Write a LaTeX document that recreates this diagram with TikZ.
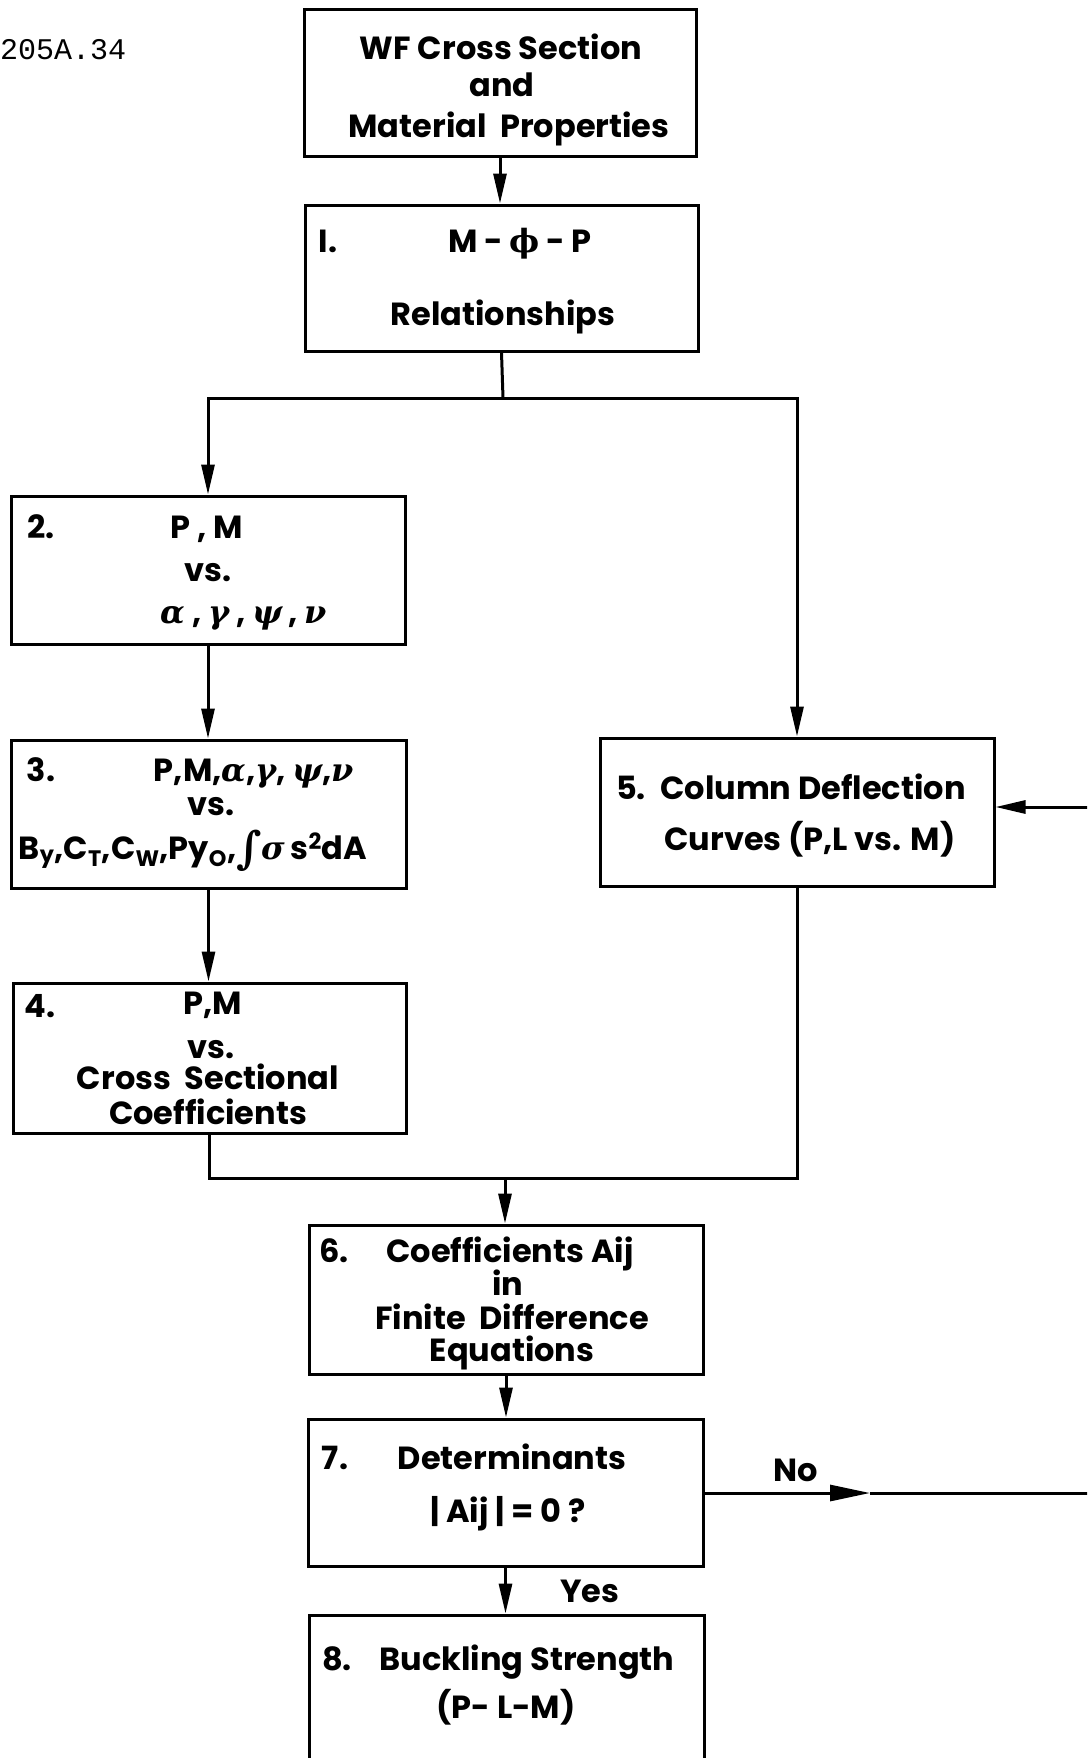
\documentclass[tikz,border=0pt]{standalone}
\usepackage{fontspec}
\setmainfont{Poppins}
\newfontfamily\monofam{Liberation Mono}
\newfontfamily\grk{DejaVu Serif}
\usetikzlibrary{arrows.meta}
\newcommand\lblfont{\fontsize{32pt}{32pt}\selectfont\bfseries}
\newcommand\gi[1]{{\grk\itshape\bfseries #1}}
\newcommand\bigint{\raisebox{-4pt}{\fontsize{44pt}{44pt}\selectfont\grk\itshape ∫}}
\begin{document}
\begin{tikzpicture}[x=1pt,y=-1pt,
  box/.style={draw, line width=3pt, rectangle, inner sep=0pt},
  lbl/.style={font=\lblfont, inner sep=0pt, text height=22pt, text depth=0pt, anchor=center},
  conn/.style={line width=3pt},
  arr/.style={conn, -{Triangle[length=30pt,width=13pt]}},
  arrno/.style={conn, -{Triangle[length=40pt,width=16pt]}}
]
\clip (0,0) rectangle (1087,1758);
\useasboundingbox (0,0) rectangle (1087,1758);

% header
\node[font=\monofam\fontsize{30pt}{30pt}\selectfont, anchor=west, inner sep=0pt] (hdr) at (0,50) {205A.34};

% boxes
\node[box, minimum width=392pt, minimum height=146pt] (b0) at (500,83) {};
\node[box, minimum width=393pt, minimum height=146pt] (b1) at (501.5,278) {};
\node[box, minimum width=394pt, minimum height=148pt] (b2) at (208,570) {};
\node[box, minimum width=395pt, minimum height=148pt] (b3) at (208.5,814) {};
\node[box, minimum width=393pt, minimum height=150pt] (b4) at (209.5,1058) {};
\node[box, minimum width=394pt, minimum height=148pt] (b5) at (797,812) {};
\node[box, minimum width=394pt, minimum height=149pt] (b6) at (506,1299.5) {};
\node[box, minimum width=395pt, minimum height=147pt] (b7) at (505.5,1492.5) {};
\node[box, minimum width=395pt, minimum height=300pt] (b8) at (506.5,1765) {};

% texts
\node[lbl] (t0a) at (501,49) {WF Cross Section};
\node[lbl] (t0b) at (502,86) {and};
\node[lbl] (t0c) at (509,127) {Material \ Properties};

\node[lbl] (t1n) at (328,241) {I.};
\node[lbl] (t1a) at (520,241) {M - {\grk\bfseries ϕ} - P};
\node[lbl] (t1b) at (503,314) {Relationships};

\node[lbl] (t2n) at (41,527) {2.};
\node[lbl] (t2a) at (207,527) {P , M};
\node[lbl] (t2b) at (208,570) {vs.};
\node[lbl] (t2c) at (244,612) {\gi{α} , \gi{γ} , \gi{ψ} , \gi{ν}};

\node[lbl] (t3n) at (41,770) {3.};
\node[lbl] (t3a) at (254,770) {P,M,\gi{α},\gi{γ}, \gi{ψ},\gi{ν}};
\node[lbl] (t3b) at (211,804) {vs.};
\node[lbl] (t3c) at (193,848) {B\textsubscript{y},C\textsubscript{T},C\textsubscript{W},Py\textsubscript{O},\bigint\gi{σ}\,s\textsuperscript{2}dA};

\node[lbl] (t4n) at (40,1006) {4.};
\node[lbl] (t4a) at (213,1003) {P,M};
\node[lbl] (t4b) at (211,1047) {vs.};
\node[lbl] (t4c) at (208,1078) {Cross \ Sectional};
\node[lbl] (t4d) at (208,1113) {Coefficients};

\node[lbl] (t5n) at (631,788) {5.};
\node[lbl] (t5a) at (813,788) {Column Deflection};
\node[lbl] (t5b) at (810,839) {Curves (P,L vs. M)};

\node[lbl] (t6n) at (334,1251) {6.};
\node[lbl] (t6a) at (510,1251) {Coefficients Aij};
\node[lbl] (t6b) at (508,1284) {in};
\node[lbl] (t6c) at (512,1318) {Finite \ Difference};
\node[lbl] (t6d) at (512,1350) {Equations};

\node[lbl] (t7n) at (335,1458) {7.};
\node[lbl] (t7a) at (512,1458) {Determinants};
\node[lbl] (t7b) at (508,1511) {| Aij | = 0 ?};

\node[lbl] (t8n) at (337,1659) {8.};
\node[lbl] (t8a) at (527,1659) {Buckling Strength};
\node[lbl] (t8b) at (506,1707) {(P- L-M)};

\node[lbl] (lno) at (796,1470) {No};
\node[lbl] (lyes) at (590,1591) {Yes};

% coordinates
\coordinate (j1) at (503,398);
\coordinate (j2) at (505,1178);
\coordinate (noarr) at (870,1493);
\coordinate (noend) at (1095,1493);
\coordinate (fbstart) at (1095,807);

% connectors
\draw[arr] (b0.south) -- (b0.south |- b1.north);
\draw[conn] (b1.south) -- (j1);
\draw[arr] (j1) -| (b2.north);
\draw[arr] (j1) -| (b5.north);
\draw[arr] (b2.south) -- (b2.south |- b3.north);
\draw[arr] (b3.south) -- (b3.south |- b4.north);
\draw[conn] (b4.south) |- (j2);
\draw[conn] (b5.south) |- (j2);
\draw[arr] (j2) -- (j2 |- b6.north);
\draw[arr] (b6.south) -- (b6.south |- b7.north);
\draw[arr] (b7.south) -- (b7.south |- b8.north);
\draw[arrno] (b7.east |- noarr) -- (noarr);
\draw[conn] (noarr) -- (noend);
\draw[arr] (fbstart) -- (fbstart -| b5.east);
\end{tikzpicture}
\end{document}
